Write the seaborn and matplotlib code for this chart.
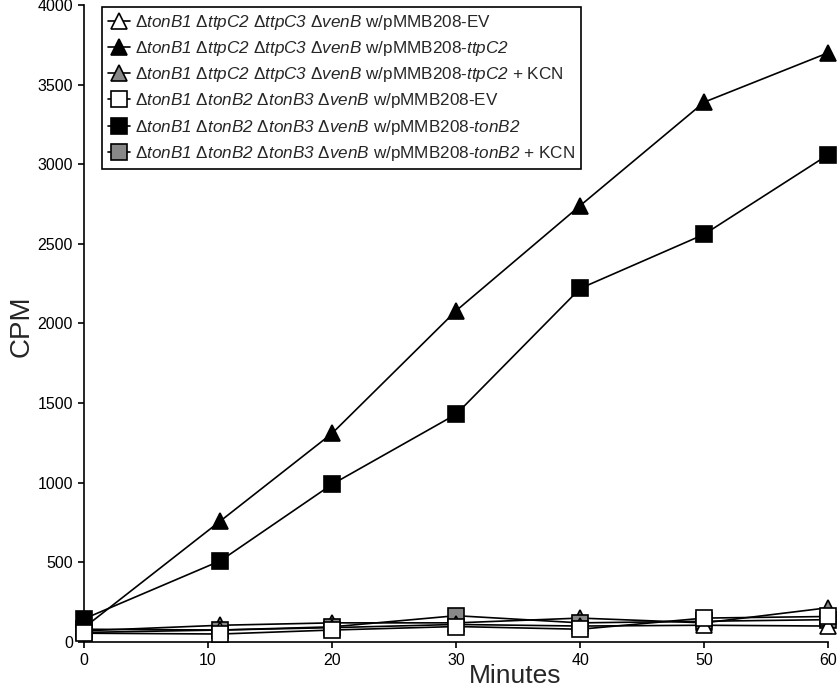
import pandas as pd
import seaborn as sns
from matplotlib import pyplot as plt

minutes = [0, 11, 20, 30, 40, 50, 60]

ttpc2_ev = [60, 75, 90, 110, 100, 105, 100]
ttpc2 = [90, 760, 1310, 2080, 2740, 3390, 3700]
ttpc2_kcn = [70, 105, 120, 120, 150, 120, 215]
tonb2_ev = [55, 50, 75, 97, 80, 150, 160]
tonb2 = [145, 510, 990, 1430, 2220, 2560, 3060]
tonb2_kcn = [80, 75, 95, 165, 120, 130, 140]

labels = [
    r"Δ$\mathit{tonB1}$ Δ$\mathit{ttpC2}$ Δ$\mathit{ttpC3}$ Δ$\mathit{venB}$ w/pMMB208-EV",
    r"Δ$\mathit{tonB1}$ Δ$\mathit{ttpC2}$ Δ$\mathit{ttpC3}$ Δ$\mathit{venB}$ w/pMMB208-$\mathit{ttpC2}$",
    r"Δ$\mathit{tonB1}$ Δ$\mathit{ttpC2}$ Δ$\mathit{ttpC3}$ Δ$\mathit{venB}$ w/pMMB208-$\mathit{ttpC2}$ + KCN",
    r"Δ$\mathit{tonB1}$ Δ$\mathit{tonB2}$ Δ$\mathit{tonB3}$ Δ$\mathit{venB}$ w/pMMB208-EV",
    r"Δ$\mathit{tonB1}$ Δ$\mathit{tonB2}$ Δ$\mathit{tonB3}$ Δ$\mathit{venB}$ w/pMMB208-$\mathit{tonB2}$",
    r"Δ$\mathit{tonB1}$ Δ$\mathit{tonB2}$ Δ$\mathit{tonB3}$ Δ$\mathit{venB}$ w/pMMB208-$\mathit{tonB2}$ + KCN",
]
series = [ttpc2_ev, ttpc2, ttpc2_kcn, tonb2_ev, tonb2, tonb2_kcn]
markers = ["^", "^", "^", "s", "s", "s"]
faces = ["white", "black", "#888888", "white", "black", "#888888"]
# drawing order: white squares end up on top, like the figure
zorders = [3, 4, 2.5, 5, 4.5, 2.8]


def main():
    sns.set_style("ticks")
    plt.rcParams["font.family"] = ["Liberation Sans", "DejaVu Sans"]
    plt.rcParams["mathtext.fontset"] = "custom"
    # digits inside \mathit fall back to "rm", so make that italic too
    plt.rcParams["mathtext.rm"] = "Liberation Sans:italic"
    plt.rcParams["mathtext.it"] = "Liberation Sans:italic"

    fig = plt.figure(figsize=(8.4, 6.95), dpi=100)
    ax = fig.add_axes([0.1, 0.0763, 0.886, 0.9165])

    for vals, lab, m, fc, z in zip(series, labels, markers, faces, zorders):
        df = pd.DataFrame({"Minutes": minutes, "CPM": vals})
        sns.lineplot(data=df, x="Minutes", y="CPM", ax=ax, color="black",
                     linewidth=1.2, marker=m, markersize=11,
                     markerfacecolor=fc, markeredgecolor="black",
                     markeredgewidth=1.2, label=lab, zorder=z)

    ax.set_xlim(0, 60)
    ax.set_ylim(0, 4000)
    ax.set_xticks(range(0, 61, 10))
    ax.set_yticks(range(0, 4001, 500))
    ax.tick_params(labelsize=11.5, length=4, width=1.2, pad=4, colors="black")
    ax.set_xlabel("Minutes", fontsize=19)
    ax.xaxis.set_label_coords(0.579, -0.035)
    ax.set_ylabel("CPM", fontsize=20)
    ax.yaxis.set_label_coords(-0.067, 0.495)
    ax.spines["top"].set_visible(False)
    ax.spines["right"].set_visible(False)
    for s in ["left", "bottom"]:
        ax.spines[s].set_linewidth(1.2)
        ax.spines[s].set_color("black")
    for ln in ax.lines:
        ln.set_clip_on(False)

    leg = ax.legend(loc="upper left", bbox_to_anchor=(0.024, 0.997),
                    fontsize=12.3, frameon=True, fancybox=False,
                    edgecolor="black", handlelength=1.3, handletextpad=0.3,
                    labelspacing=0.42, borderpad=0.35, borderaxespad=0)
    leg.get_frame().set_linewidth(1.2)
    leg.get_frame().set_alpha(1)
    leg.set_zorder(10)

    fig.savefig("out.png", dpi=100)


if __name__ == "__main__":
    main()
